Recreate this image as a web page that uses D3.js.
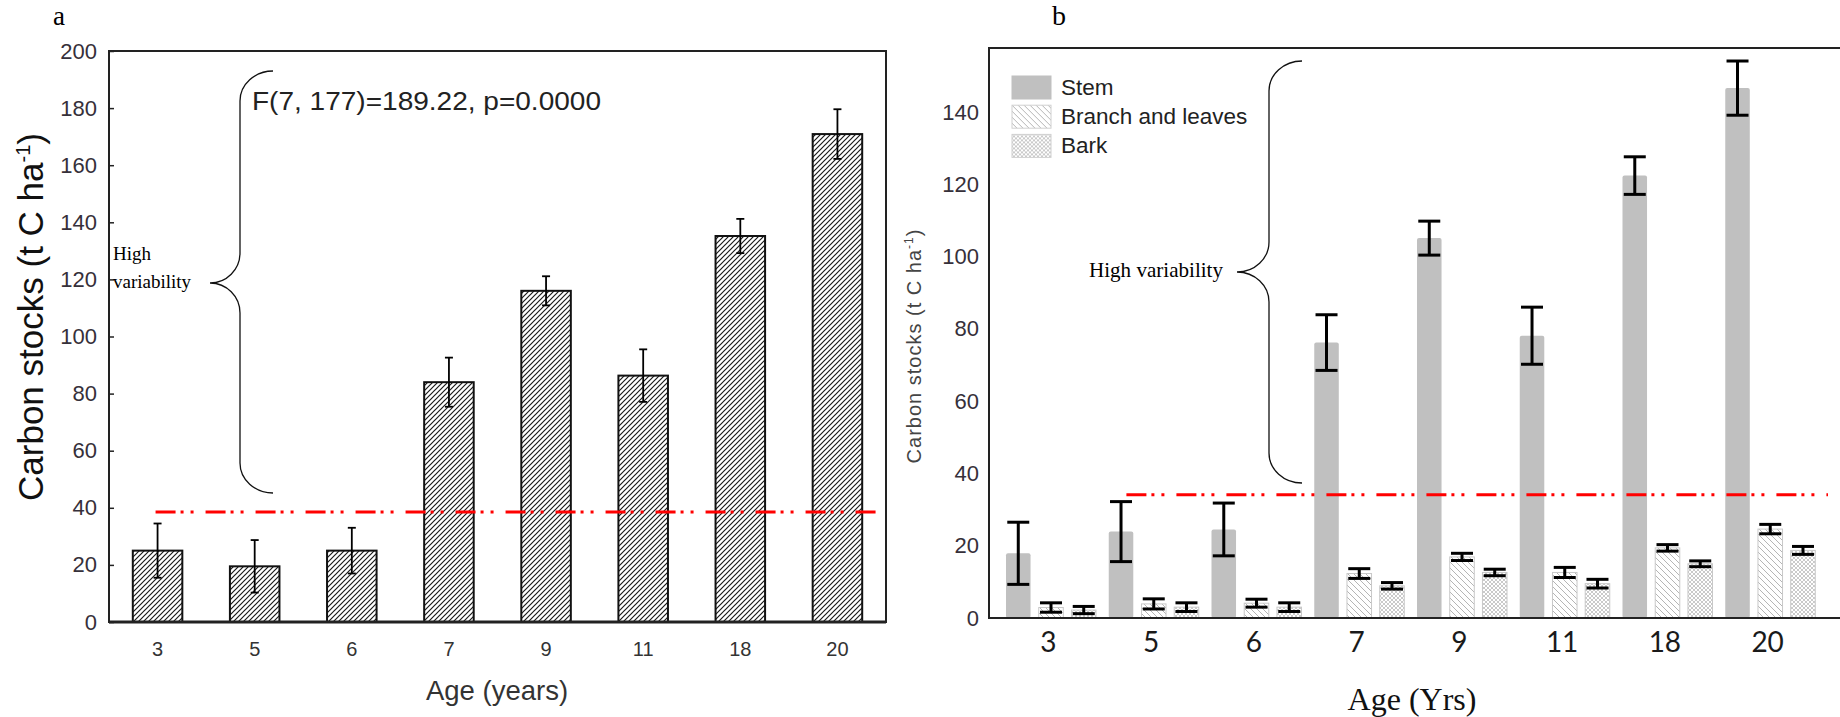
<!DOCTYPE html>
<html>
<head>
<meta charset="utf-8">
<script src="https://cdn.jsdelivr.net/npm/d3@7"></script>
<style>
  body { margin: 0; background: #fff; }
</style>
</head>
<body>
<div id="chart"></div>
<script>
const width = 1840;
const height = 717;

// Panel a: total carbon stock per stand age
const ages = ["3", "5", "6", "7", "9", "11", "18", "20"];
const totalStock = [25, 19.5, 25, 84, 116, 86.3, 135.2, 170.9];
const totalErr = [9.5, 9.2, 8, 8.6, 5.1, 9.2, 6, 8.7];
const yTicksA = [0, 20, 40, 60, 80, 100, 120, 140, 160, 180, 200];
const thresholdA = 38.5;
const statText = "F(7, 177)=189.22, p=0.0000";

// Panel b: carbon stock per tree component
const parts = ["Stem", "Branch and leaves", "Bark"];
const stem = [17.9, 23.9, 24.5, 76.2, 105.1, 78.1, 122.4, 146.6];
const stemErr = [8.6, 8.3, 7.3, 7.7, 4.7, 7.9, 5.2, 7.5];
const branch = [2.9, 3.9, 4.1, 12.3, 16.9, 12.6, 19.4, 24.6];
const branchErr = [1.3, 1.4, 1.1, 1.35, 1.0, 1.4, 0.9, 1.3];
const bark = [2.2, 3.0, 3.0, 8.9, 12.6, 9.5, 15.0, 18.7];
const barkErr = [1.0, 1.2, 1.2, 0.9, 0.9, 1.2, 0.8, 1.1];
const yTicksB = [0, 20, 40, 60, 80, 100, 120, 140];
const thresholdB = 34.1;

const sans = "'Liberation Sans', Arial, sans-serif";
const serif = "'Liberation Serif', 'Times New Roman', serif";

const svg = d3.select("#chart")
  .append("svg")
  .attr("width", width)
  .attr("height", height)
  .style("background-color", "#fff");

// patterns
const defs = svg.append("defs");

const hatchA = defs.append("pattern")
  .attr("id", "hatchA")
  .attr("patternUnits", "userSpaceOnUse")
  .attr("width", 5).attr("height", 5);
hatchA.append("rect").attr("width", 5).attr("height", 5).attr("fill", "#fff");
hatchA.append("path")
  .attr("d", "M-1,1 l2,-2 M0,5 l5,-5 M4,6 l2,-2")
  .attr("stroke", "#1a1a1a").attr("stroke-width", 1.2);

const hatchBranch = defs.append("pattern")
  .attr("id", "hatchBranch")
  .attr("patternUnits", "userSpaceOnUse")
  .attr("width", 6).attr("height", 6);
hatchBranch.append("rect").attr("width", 6).attr("height", 6).attr("fill", "#fff");
hatchBranch.append("path")
  .attr("d", "M-1,5 l2,2 M0,0 l6,6 M5,-1 l2,2")
  .attr("stroke", "#b5b5b5").attr("stroke-width", 1);

const crossBark = defs.append("pattern")
  .attr("id", "crossBark")
  .attr("patternUnits", "userSpaceOnUse")
  .attr("width", 4).attr("height", 4);
crossBark.append("rect").attr("width", 4).attr("height", 4).attr("fill", "#fff");
crossBark.append("path")
  .attr("d", "M0,0 l4,4 M0,4 l4,-4")
  .attr("stroke", "#bdbdbd").attr("stroke-width", 0.8);

// curly brace helper
function brace(g, xEnd, yTop, xLine, xTip, yTip, yBot, r) {
  const k = 0.552;
  const dx = xEnd - xLine;
  const dt = xLine - xTip;
  const d = `M${xEnd},${yTop}
    C${xEnd - k * dx},${yTop} ${xLine},${yTop + r - k * r} ${xLine},${yTop + r}
    L${xLine},${yTip - r}
    C${xLine},${yTip - r + k * r} ${xTip + k * dt},${yTip} ${xTip},${yTip}
    C${xTip + k * dt},${yTip} ${xLine},${yTip + r - k * r} ${xLine},${yTip + r}
    L${xLine},${yBot - r}
    C${xLine},${yBot - r + k * r} ${xEnd - k * dx},${yBot} ${xEnd},${yBot}`;
  g.append("path")
    .attr("d", d)
    .attr("fill", "none")
    .attr("stroke", "#111")
    .attr("stroke-width", 1.3);
}

function errorBars(g, data, xFn, yScale, cap, sw) {
  const eb = g.append("g").attr("stroke", "#000").attr("stroke-width", sw);
  data.forEach(d => {
    const x = xFn(d);
    const y1 = yScale(d.v + d.e);
    const y2 = yScale(d.v - d.e);
    eb.append("line").attr("x1", x).attr("x2", x).attr("y1", y1).attr("y2", y2);
    eb.append("line").attr("x1", x - cap).attr("x2", x + cap).attr("y1", y1).attr("y2", y1);
    eb.append("line").attr("x1", x - cap).attr("x2", x + cap).attr("y1", y2).attr("y2", y2);
  });
}

// ---------------- Panel a ----------------
const gA = svg.append("g");

const xA = d3.scaleBand()
  .domain(ages)
  .range([109, 886])
  .paddingInner(0.49)
  .paddingOuter(0.245);

const yA = d3.scaleLinear()
  .domain([0, 200])
  .range([622, 51]);

const dataA = ages.map((a, i) => ({ age: a, v: totalStock[i], e: totalErr[i] }));

gA.append("text")
  .attr("x", 53).attr("y", 25)
  .style("font-family", serif)
  .style("font-size", "27px")
  .text("a");

// bars
gA.selectAll("rect.bar")
  .data(dataA)
  .join("rect")
  .attr("class", "bar")
  .attr("x", d => xA(d.age))
  .attr("y", d => yA(d.v))
  .attr("width", xA.bandwidth())
  .attr("height", d => yA(0) - yA(d.v))
  .attr("fill", "url(#hatchA)")
  .attr("stroke", "#111")
  .attr("stroke-width", 2);

errorBars(gA, dataA, d => xA(d.age) + xA.bandwidth() / 2, yA, 4, 1.8);

// frame
gA.append("rect")
  .attr("x", 109).attr("y", 51)
  .attr("width", 777).attr("height", yA(0) - 51)
  .attr("fill", "none")
  .attr("stroke", "#222")
  .attr("stroke-width", 2);
gA.append("line")
  .attr("x1", 109).attr("x2", 886)
  .attr("y1", yA(0)).attr("y2", yA(0))
  .attr("stroke", "#222").attr("stroke-width", 3);

// y axis
const axA = gA.append("g")
  .attr("transform", "translate(109,0)")
  .call(d3.axisLeft(yA).tickValues(yTicksA).tickSize(-5).tickPadding(12));
axA.select(".domain").remove();
axA.selectAll("line").attr("stroke", "#222").attr("stroke-width", 1.5);
axA.selectAll("text")
  .style("font-family", sans)
  .style("font-size", "22px")
  .attr("fill", "#36303a");

// x labels
gA.selectAll("text.xlab")
  .data(ages)
  .join("text")
  .attr("class", "xlab")
  .attr("x", d => xA(d) + xA.bandwidth() / 2)
  .attr("y", 656)
  .attr("text-anchor", "middle")
  .style("font-family", sans)
  .style("font-size", "20px")
  .attr("fill", "#333")
  .text(d => d);

gA.append("text")
  .attr("x", 497).attr("y", 700)
  .attr("text-anchor", "middle")
  .style("font-family", sans)
  .style("font-size", "27.5px")
  .attr("fill", "#333")
  .text("Age (years)");

const titleA = gA.append("text")
  .attr("transform", "translate(43,317) rotate(-90)")
  .attr("text-anchor", "middle")
  .style("font-family", sans)
  .style("font-size", "35px")
  .attr("fill", "#111");
titleA.append("tspan").text("Carbon stocks (t C ha");
titleA.append("tspan").attr("dy", -13).style("font-size", "20px").text("-1");
titleA.append("tspan").attr("dy", 13).text(")");

// threshold
gA.append("line")
  .attr("x1", xA(ages[0]) + xA.bandwidth() / 2 - 2)
  .attr("x2", xA.range()[1] - 8)
  .attr("y1", yA(thresholdA)).attr("y2", yA(thresholdA))
  .attr("stroke", "#ff0000")
  .attr("stroke-width", 3)
  .attr("stroke-dasharray", "20,5,3,7,3,12");

brace(gA, 273, 71, 240, 210, 283, 493, 30);

gA.append("text")
  .attr("x", 113).attr("y", 260)
  .style("font-family", serif).style("font-size", "19px")
  .text("High");
gA.append("text")
  .attr("x", 113).attr("y", 288)
  .style("font-family", serif).style("font-size", "19px")
  .text("variability");

gA.append("text")
  .attr("x", 252).attr("y", 110)
  .attr("textLength", 349)
  .attr("lengthAdjust", "spacingAndGlyphs")
  .style("font-family", sans)
  .style("font-size", "25px")
  .attr("fill", "#222")
  .text(statText);

// ---------------- Panel b ----------------
const gB = svg.append("g");

const xB = d3.scaleBand()
  .domain(ages)
  .range([999, 1821])
  .padding(0);

const sub = d3.scaleBand()
  .domain(parts)
  .range([7, xB.bandwidth() - 5.75])
  .paddingInner(0.25);

const yB = d3.scaleLinear()
  .domain([0, 157.7])
  .range([618, 48]);

gB.append("text")
  .attr("x", 1052).attr("y", 25)
  .style("font-family", serif)
  .style("font-size", "28px")
  .text("b");

const seriesB = [
  { name: parts[0], values: stem, errs: stemErr, fill: "#c0c0c0", stroke: "none" },
  { name: parts[1], values: branch, errs: branchErr, fill: "url(#hatchBranch)", stroke: "#c8c8c8" },
  { name: parts[2], values: bark, errs: barkErr, fill: "url(#crossBark)", stroke: "#c8c8c8" }
];

seriesB.forEach(s => {
  const data = ages.map((a, i) => ({ age: a, v: s.values[i], e: s.errs[i] }));
  gB.append("g")
    .selectAll("rect")
    .data(data)
    .join("rect")
    .attr("x", d => xB(d.age) + sub(s.name))
    .attr("y", d => yB(d.v))
    .attr("width", sub.bandwidth())
    .attr("height", d => yB(0) - yB(d.v))
    .attr("rx", s.stroke === "none" ? 2 : 0)
    .attr("fill", s.fill)
    .attr("stroke", s.stroke)
    .attr("stroke-width", 1);
  s.data = data;
});

seriesB.forEach(s => {
  errorBars(gB, s.data, d => xB(d.age) + sub(s.name) + sub.bandwidth() / 2, yB, 11, 3);
});

// frame lines
gB.append("path")
  .attr("d", `M1840,48 H989 V${yB(0)} H1840`)
  .attr("fill", "none")
  .attr("stroke", "#222")
  .attr("stroke-width", 2);

const axB = gB.append("g")
  .attr("transform", "translate(989,0)")
  .call(d3.axisLeft(yB).tickValues(yTicksB).tickSize(0).tickPadding(10));
axB.select(".domain").remove();
axB.selectAll("text")
  .style("font-family", sans)
  .style("font-size", "22px")
  .attr("fill", "#36303a");

gB.selectAll("text.xlab")
  .data(ages)
  .join("text")
  .attr("class", "xlab")
  .attr("x", d => xB(d) + xB.bandwidth() / 2 - 2)
  .attr("y", 652)
  .attr("text-anchor", "middle")
  .style("font-family", "Lato, 'Open Sans', sans-serif")
  .style("font-size", "28px")
  .attr("fill", "#1a1a1a")
  .text(d => d);

gB.append("text")
  .attr("x", 1412).attr("y", 710)
  .attr("text-anchor", "middle")
  .style("font-family", serif)
  .style("font-size", "32px")
  .attr("fill", "#111")
  .text("Age (Yrs)");

const titleB = gB.append("text")
  .attr("transform", "translate(921,346) rotate(-90)")
  .attr("text-anchor", "middle")
  .style("font-family", sans)
  .style("font-size", "20px")
  .style("letter-spacing", "1px")
  .attr("fill", "#444");
titleB.append("tspan").text("Carbon stocks (t C ha");
titleB.append("tspan").attr("dy", -8).style("font-size", "12px").text("-1");
titleB.append("tspan").attr("dy", 8).text(")");

// legend
const legend = gB.append("g").attr("transform", "translate(1012,76)");
seriesB.forEach((s, i) => {
  const row = legend.append("g").attr("transform", `translate(0,${i * 29.2})`);
  row.append("rect")
    .attr("width", 39).attr("height", 23)
    .attr("fill", s.fill)
    .attr("stroke", s.stroke === "none" ? "#c0c0c0" : "#d0d0d0")
    .attr("stroke-width", 1);
  row.append("text")
    .attr("x", 49).attr("y", 19)
    .style("font-family", sans)
    .style("font-size", "22.5px")
    .attr("fill", "#222")
    .text(s.name);
});

// threshold
gB.append("line")
  .attr("x1", xB("5") + xB.bandwidth() * 0.24)
  .attr("x2", xB.range()[1] + 7)
  .attr("y1", yB(thresholdB)).attr("y2", yB(thresholdB))
  .attr("stroke", "#ff0000")
  .attr("stroke-width", 3)
  .attr("stroke-dasharray", "20,5,3,7,3,12");

brace(gB, 1302, 61, 1269, 1237, 272, 483, 30);

gB.append("text")
  .attr("x", 1089).attr("y", 277)
  .attr("textLength", 134)
  .attr("lengthAdjust", "spacingAndGlyphs")
  .style("font-family", serif)
  .style("font-size", "21px")
  .text("High variability");
</script>
</body>
</html>
